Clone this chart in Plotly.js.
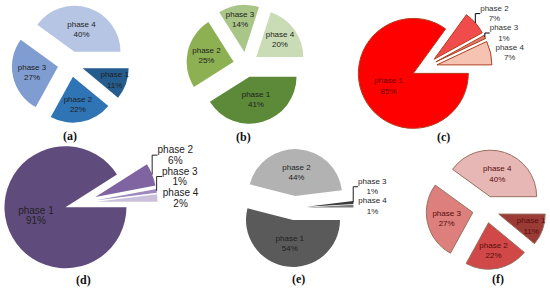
<!DOCTYPE html>
<html>
<head>
<meta charset="utf-8">
<script src="https://cdn.plot.ly/plotly-3.0.1.min.js"></script>
<style>html,body{margin:0;padding:0;background:#fff;}#chart{width:550px;height:288px;}</style>
</head>
<body>
<div id="chart"></div>
<script>
// ---- data ----
const phases = ['phase 1', 'phase 2', 'phase 3', 'phase 4'];
const valuesA = [11, 22, 27, 40];
const valuesB = [41, 25, 14, 20];
const valuesC = [85, 7, 1, 7];
const valuesD = [91, 6, 1, 2];
const valuesE = [54, 44, 1, 1];
const valuesF = [11, 22, 27, 40];
const panelLabels = ['(a)', '(b)', '(c)', '(d)', '(e)', '(f)'];

// ---- styles ----
const colorsA = ['#265d8f', '#2f74b5', '#7f9dd0', '#b5c5e3'];
const colorsB = ['#5c8a38', '#8db152', '#a9c587', '#cadcb6'];
const colorsC = ['#ff0000', '#f04c4c', '#dc7c6c', '#f6c2b2'];
const colorsD = ['#604b7d', '#7f64a1', '#9e89bd', '#cbc0da'];
const colorsE = ['#5a5a5a', '#b2b2b2', '#3a3a3a', '#7a7a7a'];
const colorsF = ['#9a3b36', '#d04848', '#dc7f7d', '#e7b7b5'];

const W = 550, H = 288;
function dom(cx, cy, box) {
  const x0 = (cx - box / 2) / W, x1 = (cx + box / 2) / W;
  let y0 = (H - (cy + box / 2)) / H, y1 = (H - (cy - box / 2)) / H;
  return {x: [Math.max(0, x0), Math.min(1, x1)], y: [Math.max(0, y0), Math.min(1, y1)]};
}

const FONT = 'Liberation Sans, Arial, sans-serif';
function pie(values, colors, cx, cy, R, pull, opts) {
  opts = opts || {};
  const box = 2 * R * (1 + pull);
  return Object.assign({
    type: 'pie',
    labels: phases,
    values: values,
    sort: false,
    direction: 'clockwise',
    rotation: 90,
    pull: pull,
    domain: dom(cx, cy, box),
    marker: {colors: colors, line: {width: 0}},
    textinfo: 'label+percent',
    textposition: 'inside',
    insidetextorientation: 'horizontal',
    textfont: {family: FONT, size: 8, color: '#1e1e1e'},
    hoverinfo: 'none',
    showlegend: false
  }, opts);
}

const data = [
  pie(valuesA, colorsA, 70.5, 64, 46, 0.28),
  pie(valuesB, colorsB, 246, 64.5, 47, 0.27),
  pie(valuesC, colorsC, 424.6, 67.6, 55, 0.23, {
    textposition: ['inside', 'outside', 'outside', 'outside'],
    textfont: {family: FONT, size: 8, color: ['#6e0000', '#333', '#333', '#333']},
    marker: {colors: colorsC, line: {width: 1, color: '#b04020'}}
  }),
  pie(valuesD, colorsD, 80.7, 202.8, 61, 0.26, {
    textposition: ['inside', 'outside', 'outside', 'outside'],
    textinfo: undefined,
    texttemplate: '<span style="font-size:10px">%{label}</span><br><span style="font-size:10px">%{percent:.0%}</span>',
    textfont: {family: FONT, size: 8, color: '#222'}
  }),
  pie(valuesE, colorsE, 294.5, 208, 47, 0.255, {
    textposition: ['inside', 'inside', 'outside', 'outside'],
    textfont: {family: FONT, size: 8, color: '#1e1e1e'}
  }),
  pie(valuesF, colorsF, 486, 209.5, 46.5, 0.29, {
    textfont: {family: FONT, size: 8, color: '#5a0c0c'},
    marker: {colors: colorsF, line: {width: 1, color: '#9a7060'}}
  })
];

const labelPos = [[70, 136], [243, 137], [443, 137], [83, 280], [298, 279], [498, 279]];
const annotations = panelLabels.map((t, i) => ({
  text: '<b>' + t + '</b>', x: labelPos[i][0] / W, y: 1 - labelPos[i][1] / H,
  xref: 'paper', yref: 'paper', xanchor: 'center', yanchor: 'middle',
  showarrow: false, font: {family: 'Liberation Serif, Times New Roman, serif', size: 12, color: '#111'}
}));

const layout = {
  width: W, height: H,
  margin: {l: 0, r: 0, t: 0, b: 0},
  paper_bgcolor: '#fff',
  showlegend: false,
  uniformtext: {mode: 'show', minsize: 8},
  annotations: annotations
};

Plotly.newPlot('chart', data, layout, {displayModeBar: false, staticPlot: true});
</script>
</body>
</html>
